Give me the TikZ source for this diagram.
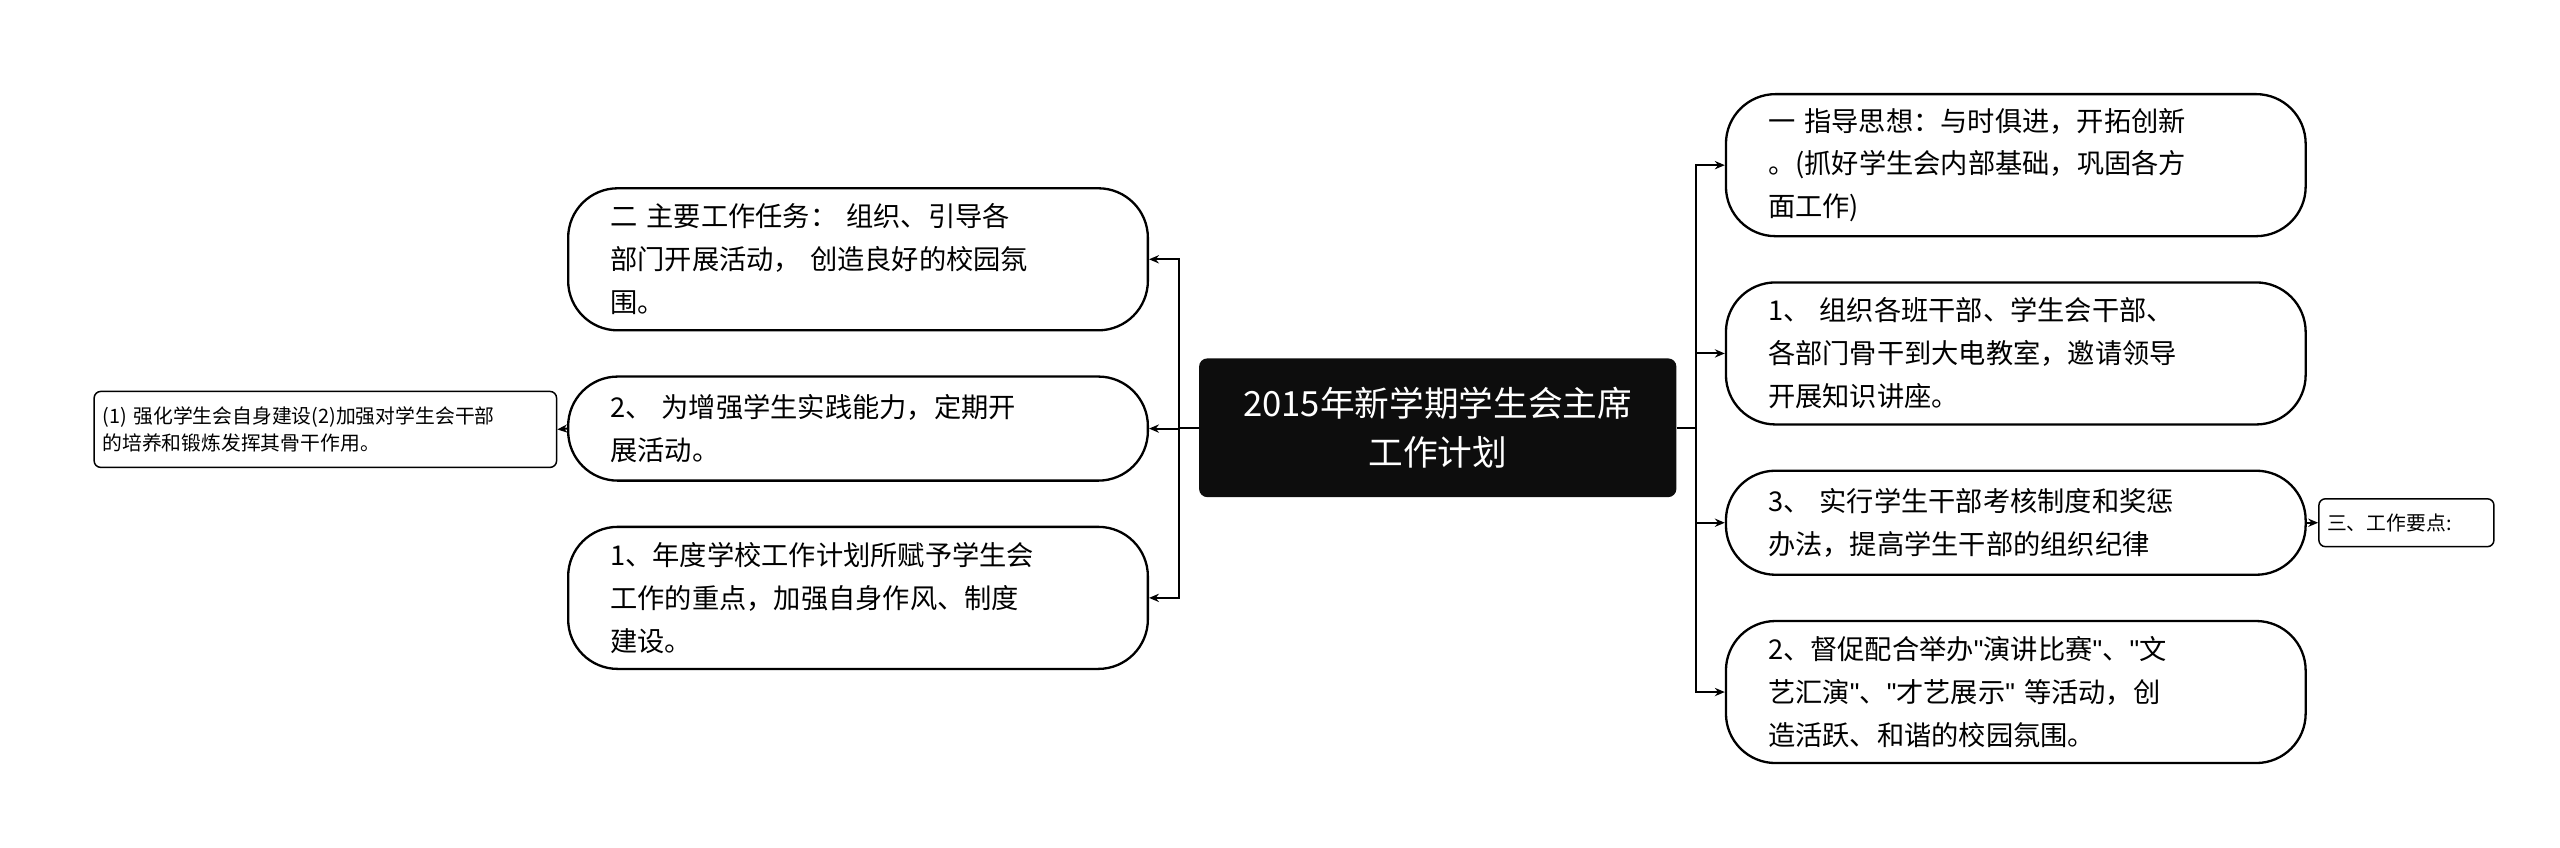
\documentclass[tikz,border=0pt]{standalone}
\usepackage{fontspec}
\setmainfont{Noto Sans CJK SC}
\newfontfamily\latfont{Liberation Sans}
\usetikzlibrary{arrows.meta}
\newcommand{\qq}{{\latfont\char34}}
\begin{document}
\begin{tikzpicture}[x=1pt,y=-1pt,
  pill/.style={draw=black,line width=1.4pt,rounded corners=30pt,fill=white,minimum width=351pt,text width=300pt,align=left,font=\fontsize{16.5}{26}\selectfont,inner sep=0pt},
  small/.style={draw=black,line width=0.9pt,rounded corners=4pt,fill=white,align=left,font=\fontsize{12}{16}\selectfont,inner sep=0pt},
  conn/.style={line width=1.2pt,-{Stealth[length=6pt,width=5pt]}}]
\useasboundingbox (0,0) rectangle (1550,513);
\node[fill=black!95,rounded corners=5pt,minimum width=289pt,minimum height=84pt,text=white,align=center,font=\fontsize{21}{30}\selectfont] (c) at (870.5,259) {2015年新学期学生会主席\\工作计划};
\node[pill,minimum height=86pt] (r1) at (1220.5,100) {一 指导思想：与时俱进，开拓创新\\。(抓好学生会内部基础，巩固各方\\面工作)};
\node[pill,minimum height=86pt] (r2) at (1220.5,214) {1、 组织各班干部、学生会干部、\\各部门骨干到大电教室，邀请领导\\开展知识讲座。};
\node[pill,minimum height=63pt] (r3) at (1220.5,316.5) {3、 实行学生干部考核制度和奖惩\\办法，提高学生干部的组织纪律};
\node[pill,minimum height=86pt] (r4) at (1220.5,419) {2、督促配合举办\qq 演讲比赛\qq 、\qq 文\\艺汇演\qq 、\qq 才艺展示\qq{} 等活动，创\\造活跃、和谐的校园氛围。};
\node[small,minimum width=106pt,minimum height=29pt,text width=96pt] (r5) at (1457,316.5) {三、工作要点:};
\node[pill,minimum height=86pt] (l1) at (519.5,157) {二 主要工作任务： 组织、引导各\\部门开展活动， 创造良好的校园氛\\围。};
\node[pill,minimum height=63pt] (l2) at (519.5,259.5) {2、 为增强学生实践能力，定期开\\展活动。};
\node[pill,minimum height=86pt] (l3) at (519.5,362) {1、年度学校工作计划所赋予学生会\\工作的重点，加强自身作风、制度\\建设。};
\node[small,minimum width=280pt,minimum height=46pt,text width=270pt] (l4) at (197,260) {(1) 强化学生会自身建设(2)加强对学生会干部\\的培养和锻炼发挥其骨干作用。};
\coordinate (jr) at (1027,259);
\coordinate (jl) at (714,259);
\draw[line width=1.2pt] (c.east) -- (jr);
\draw[line width=1.2pt] (c.west) -- (jl);
\foreach \n in {r1,r2,r3,r4}{\draw[conn] (jr) |- (\n.west);}
\foreach \n in {l1,l2,l3}{\draw[conn] (jl) |- (\n.east);}
\draw[conn] (r3.east) -- (r5.west);
\draw[conn] (l2.west) -- (l4.east);
\end{tikzpicture}
\end{document}
